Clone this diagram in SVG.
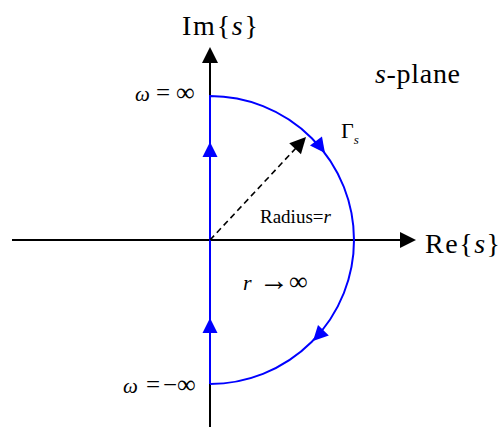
<svg xmlns="http://www.w3.org/2000/svg" width="502" height="427" viewBox="0 0 502 427">
<style>
text{font-family:"Liberation Serif","Times New Roman",serif;fill:#000}
.ax{stroke:#000;stroke-width:2;fill:none}
.bl{stroke:#0000ff;stroke-width:2;fill:none}
.dash{stroke:#000;stroke-width:1.6;fill:none;stroke-dasharray:6 4}
.big{font-size:28px}
.it{font-style:italic}
.om{font-size:21px;font-style:italic}
.eq{font-size:25px}
.inf{font-size:26px}
</style>
<defs>
<polygon id="hk" points="0,0 -16,-8 -16,8" fill="#000"/>
<polygon id="hb" points="0,0 -15,-7.5 -15,7.5" fill="#0000ff"/>
</defs>
<g id="axes">
<line class="ax" x1="12" y1="240" x2="402" y2="240"/>
<use href="#hk" transform="translate(416,240)"/>
<line class="ax" x1="210" y1="427" x2="210" y2="62"/>
<use href="#hk" transform="translate(210,47) rotate(-90)"/>
</g>
<g id="contour">
<path class="bl" d="M210,384 L210,96 A144,144 0 0 1 210,384"/>
<use href="#hb" transform="translate(210,142) rotate(-90)"/>
<use href="#hb" transform="translate(210,318) rotate(-90)"/>
<use href="#hb" transform="translate(325,153) rotate(53)"/>
<use href="#hb" transform="translate(313,341) rotate(134)"/>
</g>
<g id="radius">
<line class="dash" x1="210" y1="240" x2="296" y2="148"/>
<use href="#hk" transform="translate(306,137) rotate(-47)"/>
</g>
<g id="labels">
<text class="big" x="182" y="35" textLength="76">Im{<tspan class="it">s</tspan>}</text>
<text class="big" x="425" y="253" textLength="75">Re{<tspan class="it">s</tspan>}</text>
<text class="big" x="375" y="83" textLength="85"><tspan class="it">s</tspan>-plane</text>
<text y="101"><tspan class="om" x="135">ω</tspan><tspan class="eq" x="156">=</tspan><tspan class="inf" x="176">∞</tspan></text>
<text y="393"><tspan class="om" x="123">ω</tspan><tspan class="eq" x="146">=</tspan><tspan class="eq" x="163">−</tspan><tspan class="inf" x="177">∞</tspan></text>
<text x="341" y="138" font-size="22">Γ<tspan font-size="13" class="it" dy="6">s</tspan></text>
<text x="260" y="223" font-size="19">Radius=<tspan class="it">r</tspan></text>
<text y="290"><tspan class="it" font-size="22" x="243">r</tspan><tspan font-size="30" x="259">→</tspan><tspan class="inf" x="289">∞</tspan></text>
</g>
</svg>
